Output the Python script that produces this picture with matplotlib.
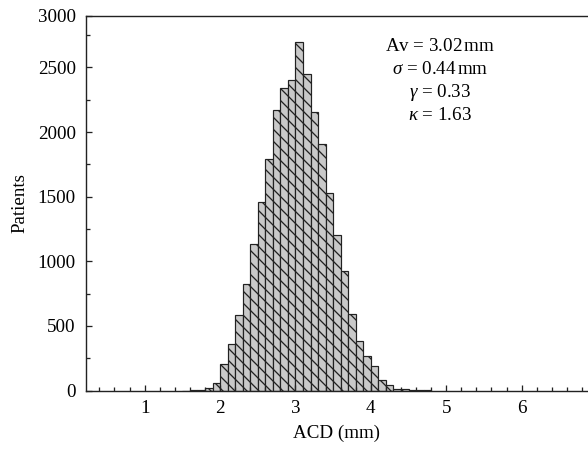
import numpy as np
import matplotlib
matplotlib.use("Agg")
from matplotlib import pyplot as plt
from matplotlib.ticker import MultipleLocator

# ACD histogram, bins of 0.1 mm (left edges)
bin_left = [1.5, 1.6, 1.7, 1.8, 1.9, 2.0, 2.1, 2.2, 2.3, 2.4, 2.5, 2.6, 2.7,
            2.8, 2.9, 3.0, 3.1, 3.2, 3.3, 3.4, 3.5, 3.6, 3.7, 3.8, 3.9, 4.0,
            4.1, 4.2, 4.3, 4.4, 4.5, 4.6, 4.7]
patients = [1, 2, 4, 18, 58, 206, 360, 586, 823, 1134, 1461, 1795, 2168,
            2343, 2400, 2695, 2446, 2155, 1911, 1530, 1204, 926, 594, 386, 265, 193,
            85, 40, 12, 10, 5, 4, 3]
bin_width = 0.1

x_ticks = [1, 2, 3, 4, 5, 6]
y_ticks = [0, 500, 1000, 1500, 2000, 2500, 2900]
y_tick_labels = ["0", "500", "1000", "1500", "2000", "2500", "3000"]

stats = [r"Av = 3.02$\,$mm", r"$\sigma$ = 0.44$\,$mm", r"$\gamma$ = 0.33", r"$\kappa$ = 1.63"]

# dpi 72 so sizes are in px
DPI = 72
FS = 19

plt.rcParams["font.family"] = ["Liberation Serif", "DejaVu Serif"]
plt.rcParams["mathtext.fontset"] = "custom"
plt.rcParams["mathtext.it"] = "Liberation Serif:italic"
plt.rcParams["mathtext.rm"] = "Liberation Serif"
plt.rcParams["hatch.color"] = "#2a2a2a"
plt.rcParams["hatch.linewidth"] = 1.3

fig = plt.figure(figsize=(588 / DPI, 449 / DPI), dpi=DPI)
ax = fig.add_axes([0.146, 0.130, 0.854, 0.835])

ax.bar(bin_left, patients, width=bin_width, align="edge", color="#c9c9c9",
       edgecolor="#222222", linewidth=1.2, hatch="\\\\")

ax.set_xlim(0.22, 6.88)
ax.set_ylim(0, 2900)
ax.set_xticks(x_ticks)
ax.set_yticks(y_ticks, y_tick_labels)
ax.xaxis.set_minor_locator(MultipleLocator(0.2))
ax.yaxis.set_minor_locator(MultipleLocator(250))
ax.tick_params(which="both", direction="in", labelsize=FS, color="#222222")
ax.tick_params(which="major", length=6, width=1.3)
ax.tick_params(which="minor", length=4, width=1.3)
ax.tick_params(axis="x", pad=9)
ax.tick_params(axis="y", pad=10)
ax.spines["right"].set_visible(False)
for s in ["left", "bottom", "top"]:
    ax.spines[s].set_linewidth(1.4)
    ax.spines[s].set_color("#222222")

ax.set_xlabel("ACD (mm)", fontsize=FS, labelpad=8)
ax.set_ylabel("Patients", fontsize=FS, labelpad=9)

for i, s in enumerate(stats):
    ax.text(0.705, 0.917 - i * 0.061, s, transform=ax.transAxes, ha="center",
            va="center", fontsize=FS)

fig.savefig("out.png", dpi=DPI)
